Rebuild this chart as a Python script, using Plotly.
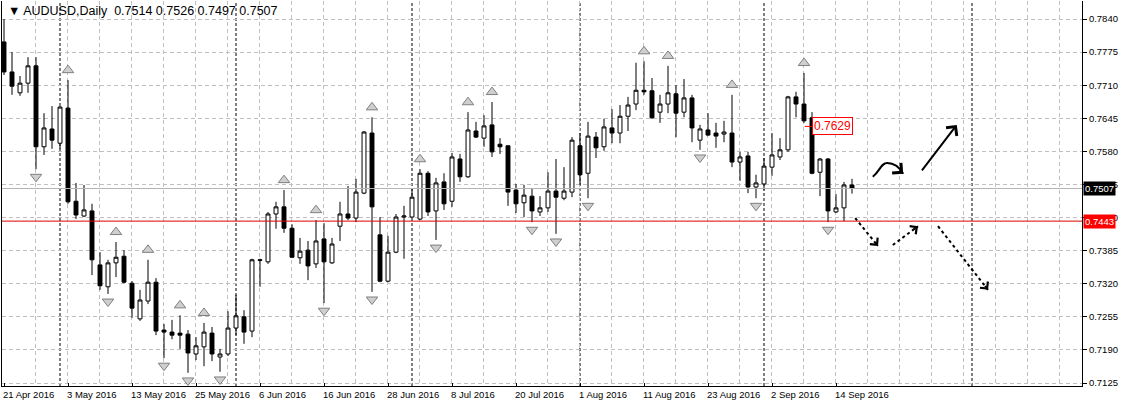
import pandas as pd
import plotly.graph_objects as go

# ---------------- data ----------------
dates = pd.bdate_range("2016-04-21", "2016-09-16")  # 107 daily bars

opens = [0.7795, 0.7736, 0.7695, 0.7714, 0.7748, 0.7589, 0.7624, 0.7596, 0.7665, 0.7482,
         0.7453, 0.7463, 0.7357, 0.7314, 0.7361, 0.7374, 0.7321, 0.7251, 0.7286, 0.7323,
         0.7229, 0.7225, 0.7223, 0.7221, 0.7182, 0.7196, 0.7223, 0.7176, 0.7182, 0.7233,
         0.7255, 0.7227, 0.7367, 0.7363, 0.7457, 0.7471, 0.7429, 0.7371, 0.7386, 0.7359,
         0.7408, 0.7361, 0.7433, 0.7457, 0.7449, 0.7498, 0.7616, 0.7416, 0.7325, 0.7382,
         0.7451, 0.7451, 0.7447, 0.7537, 0.7463, 0.7520, 0.7482, 0.7565, 0.7530, 0.7620,
         0.7606, 0.7632, 0.7594, 0.7591, 0.7504, 0.7479, 0.7492, 0.7461, 0.7469, 0.7502,
         0.7488, 0.7500, 0.7591, 0.7537, 0.7608, 0.7589, 0.7626, 0.7616, 0.7649, 0.7673,
         0.7700, 0.7699, 0.7657, 0.7673, 0.7693, 0.7657, 0.7685, 0.7602, 0.7622, 0.7616,
         0.7614, 0.7616, 0.7559, 0.7571, 0.7510, 0.7516, 0.7549, 0.7569, 0.7583, 0.7687,
         0.7673, 0.7646, 0.7539, 0.7565, 0.7461, 0.7469, 0.7514]

highs = [0.7840, 0.7775, 0.7728, 0.7765, 0.7765, 0.7655, 0.7669, 0.7669, 0.7720, 0.7518,
         0.7514, 0.7477, 0.7382, 0.7367, 0.7402, 0.7386, 0.7325, 0.7308, 0.7367, 0.7331,
         0.7241, 0.7249, 0.7258, 0.7229, 0.7215, 0.7243, 0.7235, 0.7192, 0.7266, 0.7298,
         0.7268, 0.7369, 0.7369, 0.7461, 0.7481, 0.7504, 0.7437, 0.7410, 0.7404, 0.7445,
         0.7439, 0.7410, 0.7481, 0.7512, 0.7526, 0.7620, 0.7647, 0.7451, 0.7414, 0.7457,
         0.7473, 0.7506, 0.7545, 0.7541, 0.7528, 0.7537, 0.7577, 0.7575, 0.7657, 0.7638,
         0.7651, 0.7677, 0.7606, 0.7592, 0.7516, 0.7514, 0.7508, 0.7492, 0.7539, 0.7565,
         0.7549, 0.7608, 0.7616, 0.7638, 0.7618, 0.7644, 0.7663, 0.7671, 0.7687, 0.7754,
         0.7757, 0.7724, 0.7691, 0.7748, 0.7710, 0.7722, 0.7691, 0.7632, 0.7655, 0.7636,
         0.7640, 0.7691, 0.7579, 0.7579, 0.7534, 0.7567, 0.7616, 0.7606, 0.7689, 0.7697,
         0.7734, 0.7657, 0.7567, 0.7567, 0.7496, 0.7520, 0.7526]

lows = [0.7730, 0.7691, 0.7689, 0.7695, 0.7545, 0.7573, 0.7585, 0.7585, 0.7477, 0.7447,
        0.7451, 0.7337, 0.7308, 0.7300, 0.7333, 0.7321, 0.7253, 0.7247, 0.7280, 0.7219,
        0.7174, 0.7211, 0.7192, 0.7145, 0.7170, 0.7158, 0.7168, 0.7147, 0.7178, 0.7219,
        0.7202, 0.7215, 0.7314, 0.7359, 0.7428, 0.7420, 0.7371, 0.7359, 0.7327, 0.7351,
        0.7282, 0.7359, 0.7404, 0.7445, 0.7441, 0.7496, 0.7304, 0.7323, 0.7323, 0.7380,
        0.7369, 0.7449, 0.7445, 0.7453, 0.7406, 0.7465, 0.7471, 0.7520, 0.7528, 0.7606,
        0.7589, 0.7569, 0.7575, 0.7473, 0.7459, 0.7451, 0.7441, 0.7453, 0.7461, 0.7418,
        0.7484, 0.7490, 0.7514, 0.7488, 0.7567, 0.7581, 0.7596, 0.7596, 0.7620, 0.7661,
        0.7691, 0.7644, 0.7636, 0.7655, 0.7608, 0.7647, 0.7598, 0.7583, 0.7610, 0.7587,
        0.7598, 0.7549, 0.7522, 0.7498, 0.7488, 0.7504, 0.7532, 0.7563, 0.7579, 0.7647,
        0.7636, 0.7535, 0.7492, 0.7441, 0.7459, 0.7443, 0.7497]

closes = [0.7736, 0.7708, 0.7714, 0.7748, 0.7589, 0.7626, 0.7602, 0.7667, 0.7481, 0.7455,
          0.7465, 0.7367, 0.7316, 0.7361, 0.7372, 0.7323, 0.7272, 0.7288, 0.7323, 0.7227,
          0.7225, 0.7219, 0.7219, 0.7184, 0.7198, 0.7225, 0.7182, 0.7182, 0.7233, 0.7257,
          0.7225, 0.7367, 0.7366, 0.7457, 0.7471, 0.7429, 0.7372, 0.7384, 0.7355, 0.7404,
          0.7363, 0.7398, 0.7457, 0.7449, 0.7500, 0.7618, 0.7471, 0.7325, 0.7382, 0.7451,
          0.7453, 0.7490, 0.7537, 0.7461, 0.7518, 0.7477, 0.7569, 0.7530, 0.7622, 0.7608,
          0.7630, 0.7579, 0.7589, 0.7500, 0.7477, 0.7494, 0.7463, 0.7469, 0.7502, 0.7490,
          0.7502, 0.7602, 0.7534, 0.7610, 0.7587, 0.7628, 0.7616, 0.7649, 0.7671, 0.7700,
          0.7697, 0.7646, 0.7673, 0.7695, 0.7655, 0.7685, 0.7626, 0.7624, 0.7612, 0.7610,
          0.7618, 0.7559, 0.7569, 0.7510, 0.7518, 0.7551, 0.7573, 0.7583, 0.7687, 0.7673,
          0.7640, 0.7537, 0.7565, 0.7463, 0.7469, 0.7514, 0.7507]

fractal_up_bars = [8, 14, 18, 22, 25, 35, 39, 46, 52, 58, 61, 80, 83, 91, 100]
fractal_down_bars = [4, 13, 20, 23, 27, 40, 46, 54, 66, 69, 73, 87, 94, 103]

y_tick_labels = ["0.7840", "0.7775", "0.7710", "0.7645", "0.7580", "0.7515",
                 "0.7450", "0.7385", "0.7320", "0.7255", "0.7190", "0.7125"]

bid_price = 0.7507
support_price = 0.7443
price_label_value = 0.7629
price_label_bar = 100
symbol_name = "AUDUSD,Daily"
next_month = pd.Timestamp("2016-10-01")

# hand-drawn arrows (bar index, price)
solid_arrow = dict(tail=(114.6, 0.7540), head=(119.1, 0.7632))
curve_pts = [(108.6, 0.7530), (109.5, 0.7541), (109.6, 0.7557), (110.4, 0.7557),
             (111.4, 0.7557), (112.0, 0.7547), (112.4, 0.7536)]
dotted_arrows = [((106.4, 0.7449), (109.25, 0.7394)),
                 ((111.1, 0.7396), (114.25, 0.7433)),
                 ((116.75, 0.7433), (123.0, 0.7308))]

# ---------------- derived ----------------
n = len(dates)
xs = list(range(n))
label_idx = list(range(0, n, 8))
label_txt = [f"{dates[i].day} {dates[i]:%b %Y}" for i in label_idx]
month_starts = [i for i in range(1, n) if dates[i].month != dates[i - 1].month]
month_starts.append(n - 1 + (next_month - dates[-1]).days)
grid_x = [4 * k - 0.125 for k in range(0, 34)]
y_ticks = [float(t) for t in y_tick_labels]

FONT = "Liberation Sans"
FS = 9.5
GRID = "#c0c0c0"
UP_GAP = 0.00195
DN_GAP = 0.00150

fig = go.Figure()

fig.add_trace(go.Candlestick(
    x=xs, open=opens, high=highs, low=lows, close=closes,
    increasing=dict(line=dict(color="black", width=1), fillcolor="white"),
    decreasing=dict(line=dict(color="black", width=1), fillcolor="black"),
    whiskerwidth=0, showlegend=False, hoverinfo="skip",
))

fig.add_trace(go.Scatter(
    x=fractal_up_bars, y=[highs[i] + UP_GAP for i in fractal_up_bars],
    mode="markers", showlegend=False, hoverinfo="skip",
    marker=dict(symbol="triangle-up", size=10, color="#cfcfcf",
                line=dict(color="#7f7f7f", width=1)),
))
fig.add_trace(go.Scatter(
    x=fractal_down_bars, y=[lows[i] - DN_GAP for i in fractal_down_bars],
    mode="markers", showlegend=False, hoverinfo="skip",
    marker=dict(symbol="triangle-down", size=10, color="#cfcfcf",
                line=dict(color="#7f7f7f", width=1)),
))

shapes = []
for m in month_starts:
    shapes.append(dict(type="line", xref="x", yref="paper", x0=m, x1=m, y0=0, y1=1,
                       line=dict(color="black", width=1, dash="3px,2px"), layer="below"))
shapes.append(dict(type="line", xref="paper", yref="y", x0=0, x1=1, y0=bid_price, y1=bid_price,
                   line=dict(color="#b4b4b4", width=1)))
shapes.append(dict(type="line", xref="paper", yref="y", x0=0, x1=1, y0=support_price, y1=support_price,
                   line=dict(color="#dd0000", width=1)))
shapes.append(dict(type="line", xref="x", yref="y", x0=price_label_bar + 0.1, x1=price_label_bar + 1.0,
                   y0=price_label_value, y1=price_label_value, line=dict(color="red", width=1)))
# curved arrow
p = curve_pts
path = (f"M {p[0][0]},{p[0][1]} C {p[1][0]},{p[1][1]} {p[2][0]},{p[2][1]} {p[3][0]},{p[3][1]} "
        f"C {p[4][0]},{p[4][1]} {p[5][0]},{p[5][1]} {p[6][0]},{p[6][1]}")
shapes.append(dict(type="path", xref="x", yref="y", path=path, line=dict(color="black", width=2)))
for (t, h) in dotted_arrows:
    shapes.append(dict(type="line", xref="x", yref="y", x0=t[0], y0=t[1], x1=h[0], y1=h[1],
                       line=dict(color="black", width=2, dash="dot")))

annotations = []
# title
annotations.append(dict(
    xref="paper", yref="paper", x=0, y=1, xanchor="left", yanchor="top", xshift=4, yshift=-1,
    showarrow=False, align="left",
    text=f"▼ {symbol_name}\u00a0 {opens[-1]:.4f} {highs[-1]:.4f} {lows[-1]:.4f} {closes[-1]:.4f}",
    font=dict(family=FONT, size=12.5, color="black")))
# axis price tags
annotations.append(dict(xref="paper", yref="y", x=1, y=bid_price, xanchor="left", xshift=1,
                        showarrow=False, text=f"{bid_price:.4f}", bgcolor="black", borderpad=1,
                        font=dict(family=FONT, size=FS, color="white")))
annotations.append(dict(xref="paper", yref="y", x=1, y=support_price, xanchor="left", xshift=1,
                        showarrow=False, text=f"{support_price:.4f}", bgcolor="#ff0000", borderpad=1,
                        font=dict(family=FONT, size=FS, color="white")))
# price label on chart
annotations.append(dict(xref="x", yref="y", x=price_label_bar + 1.0, y=price_label_value, xanchor="left",
                        showarrow=False, text=f"{price_label_value:.4f}", bgcolor="white",
                        bordercolor="red", borderwidth=1, borderpad=1,
                        font=dict(family=FONT, size=12, color="red")))
# arrow heads
annotations.append(dict(xref="x", yref="y", x=solid_arrow["head"][0], y=solid_arrow["head"][1],
                        ax=-36, ay=47, showarrow=True, arrowhead=4, arrowsize=1.3, arrowwidth=2,
                        arrowcolor="black", text=""))
annotations.append(dict(xref="x", yref="y", x=p[6][0], y=p[6][1], ax=-5.3, ay=-4.6, showarrow=True,
                        arrowhead=4, arrowsize=1.3, arrowwidth=2, arrowcolor="black", text=""))
heads_back = [(-4.5, -5.4), (-5.6, 4.2), (-4.3, -5.5)]
for (t, h), (bx, by) in zip(dotted_arrows, heads_back):
    annotations.append(dict(xref="x", yref="y", x=h[0], y=h[1], ax=bx, ay=by, showarrow=True,
                            arrowhead=4, arrowsize=1.3, arrowwidth=1.5, arrowcolor="black", text=""))

fig.update_layout(
    width=1121, height=407,
    margin=dict(l=2, r=39, t=1, b=21, pad=0),
    paper_bgcolor="white", plot_bgcolor="white",
    font=dict(family=FONT, size=FS, color="black"),
    shapes=shapes, annotations=annotations,
    showlegend=False,
    xaxis=dict(
        range=[-0.25, 134.75], rangeslider=dict(visible=False),
        tickmode="array", tickvals=label_idx, ticktext=label_txt,
        ticklabelposition="outside right", ticklabelshift=-2,
        ticks="inside", ticklen=3, tickcolor="black",
        showgrid=False, zeroline=False,
        showline=True, linecolor="black", linewidth=1,
        minor=dict(tickmode="array", tickvals=grid_x, showgrid=True, gridcolor=GRID,
                   griddash="4px,3px", gridwidth=1, ticks=""),
        tickfont=dict(family=FONT, size=FS, color="black"),
        fixedrange=True,
    ),
    yaxis=dict(
        side="right", range=[0.711911, 0.787536],
        tickmode="array", tickvals=y_ticks, ticktext=y_tick_labels,
        ticks="outside", ticklen=4, tickcolor="black",
        showgrid=True, gridcolor=GRID, griddash="4px,3px", gridwidth=1,
        zeroline=False, showline=True, linecolor="black", linewidth=1, mirror=True,
        tickfont=dict(family=FONT, size=FS, color="black"),
        fixedrange=True,
    ),
)

fig.write_html("out.html", config={"displayModeBar": False},
               post_script="document.body.style.margin='0';document.body.style.overflow='hidden';")
